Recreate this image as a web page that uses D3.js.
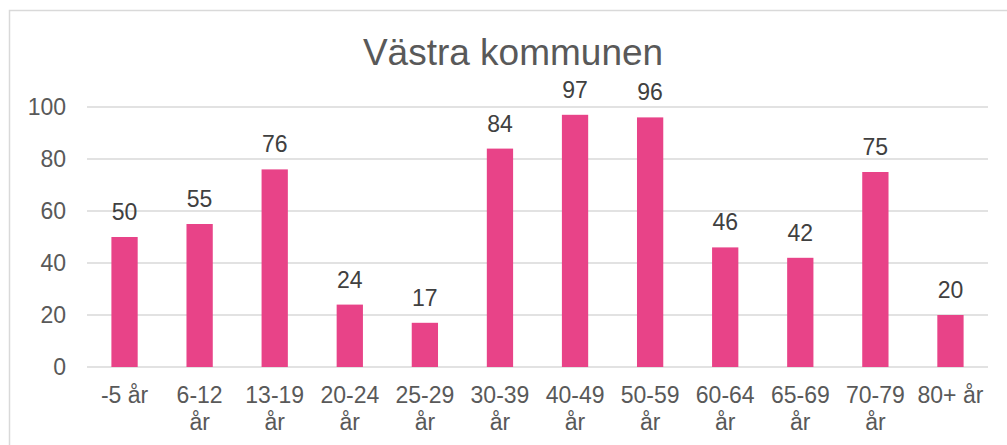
<!DOCTYPE html>
<html>
<head>
<meta charset="utf-8">
<title>Västra kommunen</title>
<script src="https://cdn.jsdelivr.net/npm/d3@7"></script>
<style>
  body { margin: 0; background: #fff; }
  svg { font-family: "Liberation Sans", Arial, sans-serif; }
</style>
</head>
<body>
<script>
  var categories = ["-5 år", "6-12 år", "13-19 år", "20-24 år", "25-29 år", "30-39 år",
                    "40-49 år", "50-59 år", "60-64 år", "65-69 år", "70-79 år", "80+ år"];
  var values = [50, 55, 76, 24, 17, 84, 97, 96, 46, 42, 75, 20];
  var yTicks = [0, 20, 40, 60, 80, 100];

  var w = 1007, h = 445;
  var margin = {top: 107, right: 19, bottom: 78, left: 87};

  var svg = d3.select("body").append("svg")
      .attr("width", w)
      .attr("height", h);

  // chart frame (only top/left edges are in view)
  svg.append("rect")
      .attr("x", 9.5).attr("y", 10.5)
      .attr("width", w + 20).attr("height", h + 20)
      .attr("fill", "none")
      .attr("stroke", "#d9d9d9")
      .attr("stroke-width", 1.5);

  svg.append("text")
      .attr("x", 513).attr("y", 65)
      .attr("text-anchor", "middle")
      .attr("font-size", "37px")
      .attr("fill", "#595959")
      .text("Västra kommunen");

  var x = d3.scaleBand()
      .domain(categories)
      .range([margin.left, w - margin.right])
      .paddingInner(0.65)
      .paddingOuter(0.325);

  var y = d3.scaleLinear()
      .domain([0, 100])
      .range([h - margin.bottom, margin.top]);

  // gridlines
  svg.append("g")
      .selectAll("line")
      .data(yTicks)
      .enter()
      .append("line")
      .attr("x1", margin.left)
      .attr("x2", w - margin.right)
      .attr("y1", function(d) { return y(d); })
      .attr("y2", function(d) { return y(d); })
      .attr("stroke", "#d9d9d9")
      .attr("stroke-width", 1.5);

  // y axis labels
  var yAxis = svg.append("g")
      .attr("transform", "translate(" + (margin.left - 21) + ",0)")
      .call(d3.axisLeft(y).tickValues(yTicks).tickSize(0).tickPadding(0));
  yAxis.select(".domain").remove();
  yAxis.selectAll("text")
      .attr("font-size", "23px")
      .attr("font-family", "Liberation Sans, Arial, sans-serif")
      .attr("fill", "#595959");

  // bars
  svg.append("g")
      .selectAll("rect")
      .data(values)
      .enter()
      .append("rect")
      .attr("x", function(d, i) { return x(categories[i]); })
      .attr("y", function(d) { return y(d); })
      .attr("width", x.bandwidth())
      .attr("height", function(d) { return y(0) - y(d); })
      .attr("fill", "#e84388");

  // value labels
  svg.append("g")
      .selectAll("text")
      .data(values)
      .enter()
      .append("text")
      .attr("x", function(d, i) { return x(categories[i]) + x.bandwidth() / 2; })
      .attr("y", function(d) { return y(d) - 17; })
      .attr("text-anchor", "middle")
      .attr("font-size", "23px")
      .attr("fill", "#404040")
      .text(function(d) { return d; });

  // category labels, wrapped like the original
  var xAxis = svg.append("g")
      .attr("transform", "translate(0," + y(0) + ")")
      .call(d3.axisBottom(x).tickSize(0).tickPadding(0));
  xAxis.select(".domain").remove();
  xAxis.selectAll("text").each(function(d) {
    var t = d3.select(this);
    t.text(null)
      .attr("y", 0)
      .attr("dy", null)
      .attr("font-size", "23px")
      .attr("font-family", "Liberation Sans, Arial, sans-serif")
      .attr("fill", "#595959");
    var parts = (d === "-5 år" || d === "80+ år") ? [d] : d.split(" ");
    parts.forEach(function(p, k) {
      t.append("tspan")
        .attr("x", 0)
        .attr("y", 36 + k * 27)
        .text(p);
    });
  });
</script>
</body>
</html>
